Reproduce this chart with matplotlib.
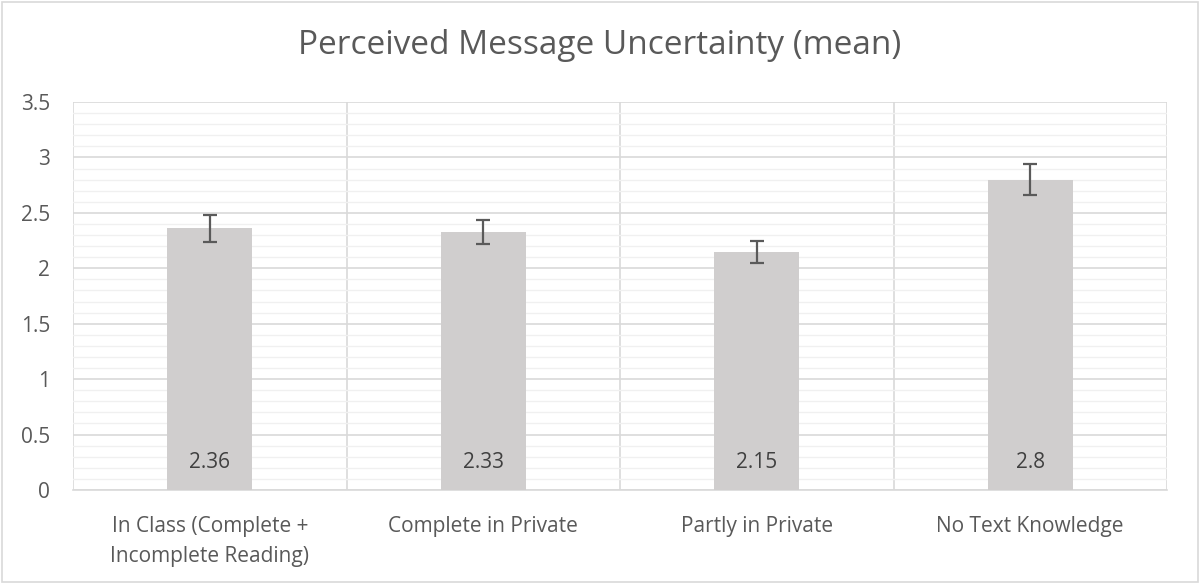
"""Perceived message uncertainty: mean per reading condition, Excel-style bars."""

import matplotlib
import matplotlib.pyplot as plt
import numpy as np
from matplotlib.patches import Rectangle
from matplotlib.ticker import MultipleLocator

matplotlib.use("Agg")

categories = ["In Class (Complete +\nIncomplete Reading)", "Complete in Private",
              "Partly in Private", "No Text Knowledge"]
means = [2.36, 2.33, 2.15, 2.8]
errors = [0.12, 0.11, 0.10, 0.14]
value_labels = ["2.36", "2.33", "2.15", "2.8"]

TXT = "#595959"
plt.rcParams["font.family"] = ["Open Sans", "DejaVu Sans"]

fig = plt.figure(figsize=(12, 5.84), dpi=100)
ax = fig.add_axes([73 / 1200, 1 - 490 / 584, (1167 - 73) / 1200, (490 - 102) / 584])

x = np.arange(len(categories))
ax.bar(x, means, width=0.31, color="#d0cece", zorder=3)
ax.errorbar(x, means, yerr=errors, fmt="none", ecolor="#5a5a5a",
            elinewidth=1.6, capsize=4.7, capthick=1.6, zorder=4)
for xi, lab in zip(x, value_labels):
    ax.text(xi, 0.25, lab, ha="center", va="center", fontsize=15, color="#404040", zorder=5)

ax.set_xlim(-0.5, len(categories) - 0.5)
ax.set_ylim(0, 3.5)
ax.yaxis.set_major_locator(MultipleLocator(0.5))
ax.yaxis.set_minor_locator(MultipleLocator(0.1))
ax.set_yticks(np.arange(0, 3.51, 0.5))
ax.set_yticklabels(["0", "0.5", "1", "1.5", "2", "2.5", "3", "3.5"])
ax.grid(axis="y", which="major", color="#d9d9d9", linewidth=1.2, zorder=1)
ax.grid(axis="y", which="minor", color="#f0f0f0", linewidth=1.0, zorder=1)
for b in np.arange(-0.5, len(categories), 1.0):
    ax.axvline(b, color="#d9d9d9", linewidth=1.2, zorder=1)

ax.set_xticks(x)
ax.set_xticklabels(categories, fontsize=15, color=TXT, linespacing=1.55)
ax.tick_params(axis="y", labelsize=15, labelcolor=TXT, length=0, pad=16.5, which="both")
ax.tick_params(axis="x", length=0, pad=19)
for side in ["top", "right", "left"]:
    ax.spines[side].set_visible(False)
ax.spines["bottom"].set_color("#d9d9d9")
ax.spines["bottom"].set_linewidth(1.2)

fig.text(0.5, 1 - 46 / 584, "Perceived Message Uncertainty (mean)", ha="center", va="center",
         fontsize=24, color=TXT)
fig.patches.append(Rectangle((2 / 1200, 2 / 584), 1196 / 1200, 580 / 584, transform=fig.transFigure,
                             fill=False, edgecolor="#d9d9d9", linewidth=1.2))

fig.savefig("out.png", dpi=100)
